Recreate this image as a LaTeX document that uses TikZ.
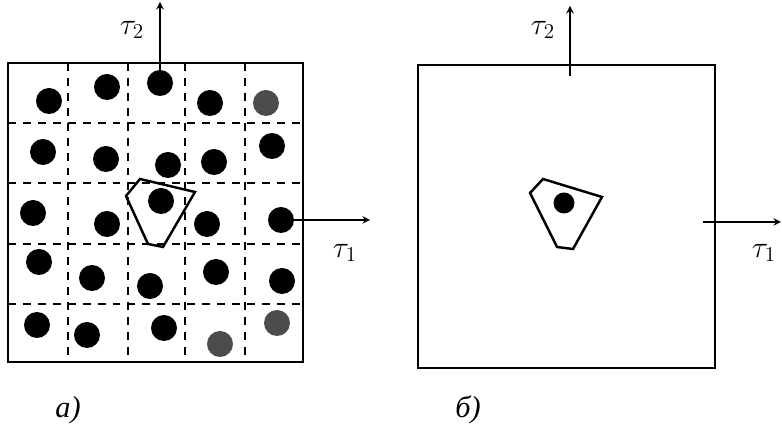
\documentclass[tikz,border=0pt]{standalone}
\usepackage{fontspec}
\newfontfamily\cyrfont{Liberation Serif}
\begin{document}
\begin{tikzpicture}[x=0.02cm, y=-0.02cm]
% Styles
\tikzstyle{atom} = [circle, fill=black, inner sep=0pt, minimum size=0.52cm]
\tikzstyle{paleatom} = [circle, fill=black!70, inner sep=0pt, minimum size=0.52cm]
\tikzstyle{cell} = [line width=1.1pt]
\tikzstyle{grid} = [line width=0.9pt, dash pattern=on 4.5pt off 4pt]
\tikzstyle{wigner} = [line width=1.4pt, line join=miter]
\tikzstyle{arrow} = [line width=0.9pt,->,>=stealth]
\tikzstyle{lbl} = [font=\LARGE]

\useasboundingbox (0,0) rectangle (782,431);

% a) lattice with cells
\draw [cell] (8,63) rectangle (303,362);
\foreach \gx in {68,128,185,245} \draw [grid] (\gx,63) -- (\gx,362);
\foreach \gy in {123,183,244,304} \draw [grid] (8,\gy) -- (303,\gy);

% Nodes
\node (a11) [atom] at (49,101) {};
\node (a12) [atom] at (107,87) {};
\node (a13) [atom] at (160,83) {};
\node (a14) [atom] at (210,103) {};
\node (a15) [paleatom] at (266,103) {};

\node (a21) [atom] at (43,152) {};
\node (a22) [atom] at (106,159) {};
\node (a23) [atom] at (168,165) {};
\node (a24) [atom] at (214,162) {};
\node (a25) [atom] at (272,146) {};

\node (a31) [atom] at (33,213) {};
\node (a32) [atom] at (107,224) {};
\node (a33) [atom] at (161,201) {};
\node (a34) [atom] at (207,224) {};
\node (a35) [atom] at (281,220) {};

\node (a41) [atom] at (39,262) {};
\node (a42) [atom] at (92,278) {};
\node (a43) [atom] at (150,286) {};
\node (a44) [atom] at (216,272) {};
\node (a45) [atom] at (282,281) {};

\node (a51) [atom] at (37,325) {};
\node (a52) [atom] at (87,335) {};
\node (a53) [atom] at (164,328) {};
\node (a54) [paleatom] at (220,344) {};
\node (a55) [paleatom] at (277,323) {};

\draw [wigner] (140,179) -- (195,192) -- (163,247) -- (148,244) -- (126,196) -- cycle;

\coordinate (t2a) at (160,2);
\coordinate (t1a) at (370,220);
\node (l2a) [lbl] at (132,30) {$\tau_2$};
\node (l1a) [lbl] at (345,253) {$\tau_1$};
\node (capa) [lbl] at (68,410) {\cyrfont\itshape а)};

% b) single cell
\draw [cell] (418,65) rectangle (715,368);
\draw [wigner] (543,179) -- (602,197) -- (573,249) -- (557,247) -- (530,193) -- cycle;
\node (b33) [atom, minimum size=0.42cm] at (564,203) {};

\coordinate (b2s) at (570,76);
\coordinate (t2b) at (570,6);
\coordinate (b1s) at (703,222);
\coordinate (t1b) at (781,222);
\node (l2b) [lbl] at (543,30) {$\tau_2$};
\node (l1b) [lbl] at (764,253) {$\tau_1$};
\node (capb) [lbl] at (468,410) {\cyrfont\itshape б)};

% Arrows
\draw [arrow] (a13.center) -- (t2a);
\draw [arrow] (a35.center) -- (t1a);
\draw [arrow] (b2s) -- (t2b);
\draw [arrow] (b1s) -- (t1b);

\end{tikzpicture}
\end{document}
